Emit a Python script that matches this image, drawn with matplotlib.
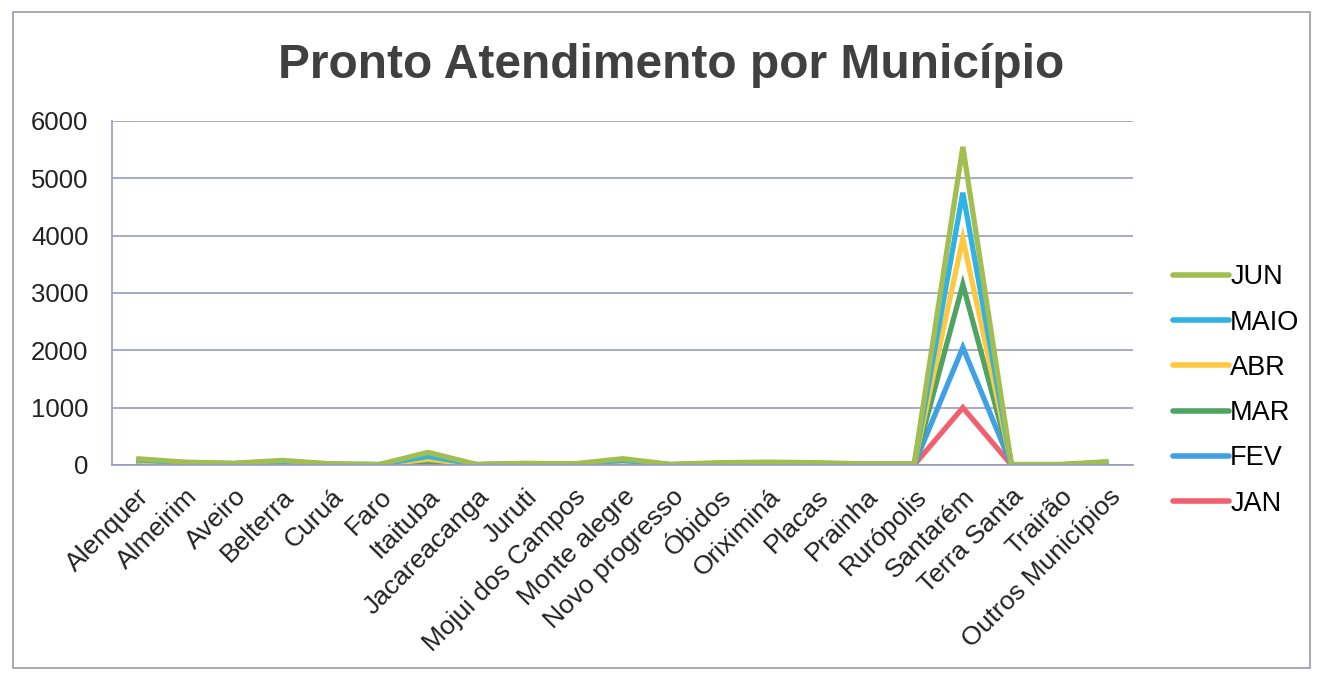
import matplotlib
matplotlib.use("Agg")
import matplotlib.pyplot as plt
from matplotlib.patches import Rectangle

plt.rcParams['font.family'] = ['Liberation Sans', 'DejaVu Sans']

municipios = ["Alenquer", "Almeirim", "Aveiro", "Belterra", "Curuá", "Faro", "Itaituba",
              "Jacareacanga", "Juruti", "Mojui dos Campos", "Monte alegre", "Novo progresso",
              "Óbidos", "Oriximiná", "Placas", "Prainha", "Rurópolis", "Santarém",
              "Terra Santa", "Trairão", "Outros Municípios"]

jan = [15, 5, 3, 10, 2, 1, 20, 1, 3, 2, 10, 1, 3, 5, 3, 2, 2, 1000, 0, 0, 5]
fev = [30, 12, 8, 20, 5, 2, 80, 2, 8, 5, 25, 2, 8, 12, 8, 5, 5, 2050, 2, 2, 10]
mar = [50, 20, 15, 35, 8, 4, 70, 4, 15, 8, 40, 4, 15, 20, 15, 8, 8, 3150, 3, 3, 20]
abr = [70, 30, 20, 50, 12, 6, 100, 6, 20, 12, 60, 6, 25, 30, 25, 12, 12, 3950, 4, 4, 30]
maio = [90, 40, 25, 60, 15, 8, 150, 8, 25, 15, 80, 8, 30, 40, 30, 15, 15, 4750, 5, 5, 40]
jun = [110, 50, 30, 80, 20, 10, 220, 10, 30, 20, 110, 10, 40, 50, 40, 20, 20, 5550, 10, 10, 60]

series = [("JAN", jan, "#F0606E"),
          ("FEV", fev, "#3FA0E6"),
          ("MAR", mar, "#4FA463"),
          ("ABR", abr, "#FFC840"),
          ("MAIO", maio, "#2FB2E6"),
          ("JUN", jun, "#A2BE50")]

fig = plt.figure(figsize=(13.17, 6.73), dpi=100)
fig.patch.set_facecolor("white")
fig.add_artist(Rectangle((13 / 1317, 1 - 668 / 673), (1310 - 13) / 1317, (668 - 12) / 673,
                         transform=fig.transFigure, fill=False, edgecolor="#9a9aaa", lw=1.2))

ax = fig.add_axes([112 / 1317, 1 - 465 / 673, (1133 - 112) / 1317, (465 - 121) / 673])
x = list(range(len(municipios)))
handles = {}
for name, vals, col in series:
    ln, = ax.plot(x, vals, color=col, lw=3.8, solid_joinstyle="miter", solid_capstyle="butt")
    handles[name] = ln

ax.set_xlim(-0.5, len(municipios) - 0.5)
ax.set_ylim(0, 6000)
ax.set_yticks(range(0, 6001, 1000))
ax.yaxis.grid(True, color="#9a9ac0", lw=1.2)
ax.set_axisbelow(True)
for s in ["top", "right"]:
    ax.spines[s].set_visible(False)
ax.spines["left"].set_color("#9a9ac0")
ax.spines["bottom"].set_color("#9a9ac0")
ax.spines["left"].set_linewidth(1.2)
ax.spines["bottom"].set_linewidth(1.2)
ax.tick_params(length=0, colors="#222222")
ax.tick_params(axis="y", labelsize=18.5, pad=17)
ax.set_xticks(x)
ax.set_xticklabels(municipios, rotation=45, ha="right", rotation_mode="anchor")
ax.tick_params(axis="x", labelsize=19, pad=14)

fig.text(671 / 1317, 1 - 65 / 673, "Pronto Atendimento por Município", ha="center", va="center",
         fontsize=34.5, fontweight="bold", color="#404040")

order = ["JUN", "MAIO", "ABR", "MAR", "FEV", "JAN"]
leg = fig.legend([handles[n] for n in order], order, loc="upper left",
                 bbox_to_anchor=(1149 / 1317, 1 - 240 / 673), frameon=False, fontsize=19.5,
                 handlelength=2.05, handletextpad=0.05, labelspacing=0.71)
for h in leg.legend_handles:
    h.set_linewidth(4)
    h.set_solid_capstyle("round")

fig.savefig("out.png", dpi=100, facecolor="white")
